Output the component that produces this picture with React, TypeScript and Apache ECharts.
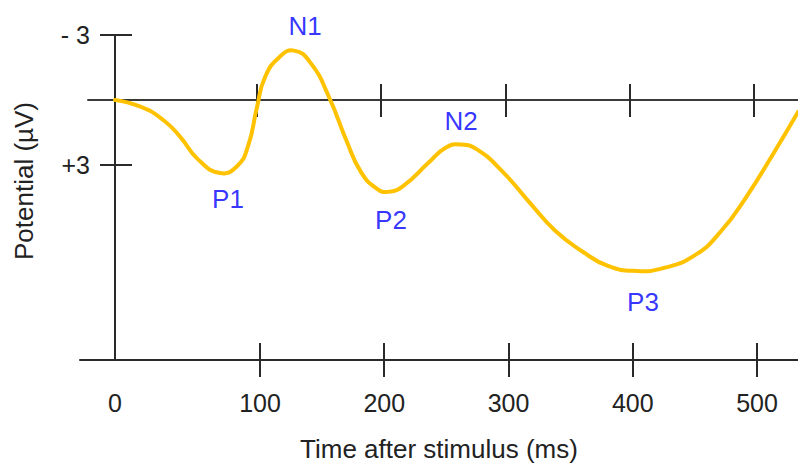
import React, { useEffect, useRef } from "react";
import * as echarts from "echarts";

// Waveform (time in ms on the linear scale of the 100–500 ticks, potential in µV; negative is drawn up)
const timeMs = [-16.7, 4.2, 21.9, 35.6, 50.1, 67.8, 81.5, 90.3, 97.6, 104.0, 115.3, 127.4, 141.0, 155.5, 169.2, 181.3, 194.2, 203.0, 215.1, 236.0, 249.7, 261.0, 274.6, 295.6, 316.5, 337.4, 359.2, 380.1, 402.6, 425.2, 450.1, 471.0, 492.0, 513.7, 533.0];
const potentialUV = [0, 0.32, 0.91, 1.69, 2.74, 3.37, 3.06, 2.14, 0.32, -1.05, -1.96, -2.28, -1.69, -0.14, 1.82, 3.33, 4.1, 4.24, 3.97, 2.87, 2.19, 2.05, 2.28, 3.33, 4.7, 6.02, 6.98, 7.66, 7.89, 7.75, 7.16, 6.06, 4.42, 2.42, 0.55];

// Peak components (index into the waveform arrays)
const peakNames = ["P1", "N1", "P2", "N2", "P3"];
const peakIndex = [5, 11, 17, 21, 28];

// Axis ticks
const originMs = -16.7; // where the potential axis crosses, labelled "0"
const xTickValues = [100, 200, 300, 400, 500];
const xTickLabels = ["0", "100", "200", "300", "400", "500"];
const yTickValues = [-3, 3];
const yTickLabels = ["- 3", "+3"];

const FONT = "'Liberation Sans', Arial, Helvetica, sans-serif";
const AXIS_COLOR = "#2a2a2a";
const TEXT_COLOR = "#222";
const LABEL_BLUE = "#0000ff";
const CURVE_COLOR = "#FFC200";

// label placement per peak (style only)
const peakLabelStyle: Record<string, any> = {
  P1: { position: "bottom", distance: 13, offset: [8, 0] },
  N1: { position: "top", distance: 12, offset: [11, 0] },
  P2: { position: "bottom", distance: 15, offset: [3, 0] },
  N2: { position: "top", distance: 10, offset: [1, 0] },
  P3: { position: "bottom", distance: 18, offset: [7, 0] },
};

export default function App() {
  const ref = useRef<HTMLDivElement>(null);

  useEffect(() => {
    if (!ref.current) return;
    const chart = echarts.init(ref.current, undefined, { renderer: "svg" });

    const xLabelValues = [originMs, ...xTickValues];
    const xLabelFmt = (v: number) => {
      let best = 0;
      let d = Infinity;
      xLabelValues.forEach((lv, i) => {
        const dd = Math.abs(lv - v);
        if (dd < d) { d = dd; best = i; }
      });
      return xTickLabels[best];
    };
    const yLabelFmt = (v: number) => {
      const i = yTickValues.findIndex((t) => Math.abs(t - v) < 1e-6);
      return i >= 0 ? yTickLabels[i] : "";
    };

    const xMin0 = -44.87, xMax0 = 533.0;
    const xMin1 = -36.0, xMax1 = 535.4;

    const lineStyle = { color: AXIS_COLOR, width: 2 };

    const curve = timeMs.map((t, i) => [t, potentialUV[i]]);
    const peaks = peakIndex.map((idx, k) => {
      const name = peakNames[k];
      const st = peakLabelStyle[name];
      return {
        value: [timeMs[idx], potentialUV[idx]],
        name,
        label: { show: true, formatter: name, position: st.position, distance: st.distance, offset: st.offset },
      };
    });

    chart.setOption({
      animation: false,
      backgroundColor: "#fff",
      grid: [
        { left: 80, right: 0, top: 35, bottom: 103 },
        { left: 88, right: 0, top: 35, bottom: 367 },
      ],
      xAxis: [
        {
          type: "value", gridIndex: 0, position: "bottom", min: xMin0, max: xMax0,
          axisLine: { show: true, onZero: false, lineStyle },
          axisTick: { show: true, inside: false, length: 17, customValues: xTickValues, lineStyle },
          axisLabel: { show: true, customValues: xLabelValues, formatter: xLabelFmt, margin: 30, fontSize: 25, fontFamily: FONT, color: TEXT_COLOR },
          splitLine: { show: false },
          name: "Time after stimulus (ms)", nameLocation: "middle", nameGap: 76,
          nameTextStyle: { fontSize: 26, fontFamily: FONT, color: TEXT_COLOR },
        },
        {
          type: "value", gridIndex: 0, position: "bottom", min: xMin0, max: xMax0,
          axisLine: { show: false, onZero: false },
          axisTick: { show: true, inside: true, length: 17, customValues: xTickValues, lineStyle },
          axisLabel: { show: false },
          splitLine: { show: false },
        },
        {
          type: "value", gridIndex: 1, position: "bottom", min: xMin1, max: xMax1,
          axisLine: { show: true, onZero: false, lineStyle: { color: "#3a3a3a", width: 2 } },
          axisTick: { show: true, inside: false, length: 17, customValues: xTickValues, lineStyle },
          axisLabel: { show: false },
          splitLine: { show: false },
        },
        {
          type: "value", gridIndex: 1, position: "bottom", min: xMin1, max: xMax1,
          axisLine: { show: false, onZero: false },
          axisTick: { show: true, inside: true, length: 16, customValues: xTickValues, lineStyle },
          axisLabel: { show: false },
          splitLine: { show: false },
        },
      ],
      yAxis: [
        {
          type: "value", gridIndex: 0, position: "left", offset: -35, inverse: true, min: -3, max: 12,
          axisLine: { show: true, onZero: false, lineStyle },
          axisTick: { show: true, inside: false, length: 15, customValues: yTickValues, lineStyle },
          axisLabel: { show: true, customValues: yTickValues, formatter: yLabelFmt, margin: 25, fontSize: 25, fontFamily: FONT, color: TEXT_COLOR },
          splitLine: { show: false },
        },
        {
          type: "value", gridIndex: 0, position: "left", offset: -35, inverse: true, min: -3, max: 12,
          axisLine: { show: false, onZero: false },
          axisTick: { show: true, inside: true, length: 17, customValues: yTickValues, lineStyle },
          axisLabel: { show: false },
          splitLine: { show: false },
        },
        {
          type: "value", gridIndex: 1, inverse: true, min: -3, max: 0, show: false,
        },
      ],
      graphic: [
        {
          type: "text", x: 24, y: 181, rotation: Math.PI / 2,
          style: { text: "Potential (µV)", font: `26px ${FONT}`, fill: TEXT_COLOR, align: "center", verticalAlign: "middle" },
        },
      ],
      series: [
        {
          type: "custom", xAxisIndex: 0, yAxisIndex: 0, data: curve, clip: false,
          encode: { x: 0, y: 1 },
          renderItem: (params: any, api: any) => {
            if (params.dataIndex !== 0) return null;
            const pts = timeMs.map((t, i) => api.coord([t, potentialUV[i]]));
            return {
              type: "polyline",
              silent: true,
              shape: { points: pts, smooth: 0.5 },
              style: { stroke: CURVE_COLOR, lineWidth: 4, fill: null, lineJoin: "round", lineCap: "round" },
            };
          },
        },
        {
          type: "scatter", xAxisIndex: 0, yAxisIndex: 0, data: peaks, symbolSize: 0,
          itemStyle: { color: "transparent" },
          label: { show: true, fontSize: 26, fontFamily: FONT, color: LABEL_BLUE },
        },
      ],
    });

    return () => chart.dispose();
  }, []);

  return <div ref={ref} style={{ position: "absolute", left: 0, top: 0, width: 798, height: 467 }} />;
}
